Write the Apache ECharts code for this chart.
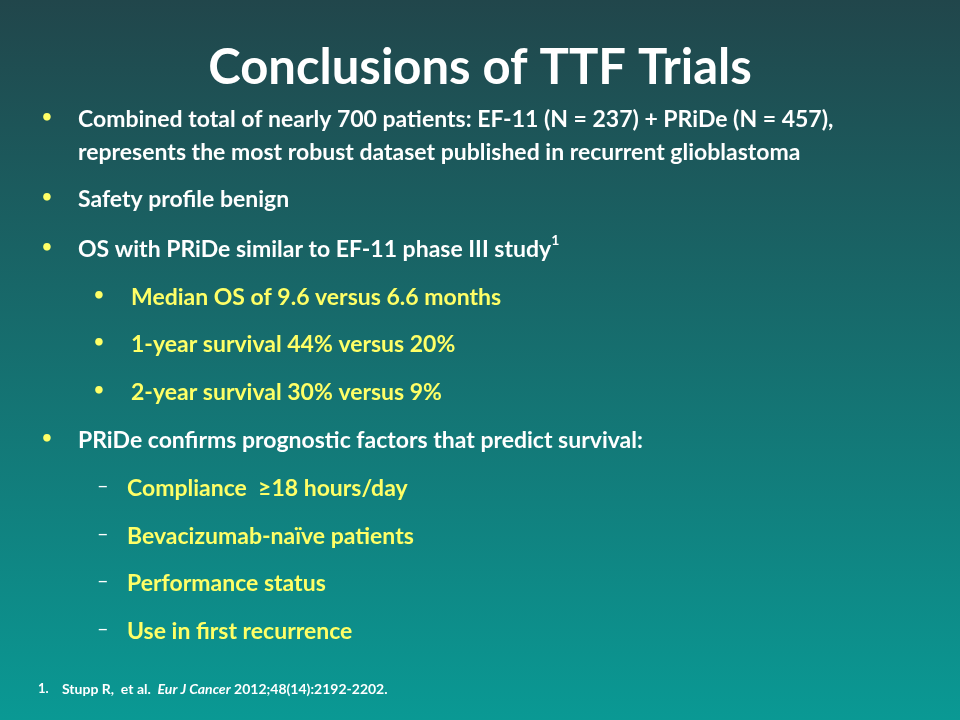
<!DOCTYPE html>
<html><head><meta charset="utf-8">
<script src="https://cdn.jsdelivr.net/npm/echarts@6/dist/echarts.min.js"></script>
<style>html,body{margin:0;padding:0}#c{width:960px;height:720px}</style>
</head><body><div id="c"></div>
<script>
const titleText = "Conclusions of TTF Trials";
const bulletTexts = [
  "Combined total of nearly 700 patients: EF-11 (N = 237) + PRiDe (N = 457),\nrepresents the most robust dataset published in recurrent glioblastoma",
  "Safety profile benign",
  "OS with PRiDe similar to EF-11 phase III study{sup|1}",
  "Median OS of 9.6 versus 6.6 months",
  "1-year survival 44% versus 20%",
  "2-year survival 30% versus 9%",
  "PRiDe confirms prognostic factors that predict survival:",
  "Compliance  \u226518 hours/day",
  "Bevacizumab-na\u00efve patients",
  "Performance status",
  "Use in first recurrence"
];
const bulletLevels = [0,0,0,1,1,1,0,2,2,2,2];
const bulletRows = [117,197,247,295,342,390,438,486,534,581,629];
const footnote = ["1.", "Stupp R,  et al.  {i|Eur J Cancer} 2012;48(14):2192-2202."];

const FONT = "Lato, 'Open Sans', sans-serif";
const YEL = "#ffff66";
const graphic = [{
  type:'rect', shape:{x:0,y:0,width:960,height:720}, z:0,
  style:{fill:new echarts.graphic.LinearGradient(0,0,0,1,[{offset:0,color:'#21464b'},{offset:1,color:'#0a9994'}])}
},{
  type:'text', x:480, y:68, style:{text:titleText, fill:'#fff', font:"bold 49px "+FONT, align:'center', verticalAlign:'middle'}
}];
bulletTexts.forEach((t,i)=>{
  const lv = bulletLevels[i], y = bulletRows[i];
  const col = lv===0 ? '#fff' : YEL;
  const mark = lv===2 ? '\u2013' : '\u2022';
  const mx = lv===0 ? 42 : (lv===1 ? 94 : 97);
  const tx = lv===0 ? 78 : (lv===1 ? 131 : 127);
  graphic.push({type:'text', x:mx, y:y, style:{text:mark, fill:lv===2?'#fff':YEL, font:(lv===2?"20px ":"bold 17px ")+FONT, verticalAlign:'middle'}});
  graphic.push({type:'text', x:tx, y:y-14, style:{text:t, fill:col, font:"bold 23px "+FONT, lineHeight:33, verticalAlign:'top',
    rich:{sup:{fill:col, font:"bold 14px "+FONT, verticalAlign:'top', padding:[0,0,6,0]}}}});
});
graphic.push({type:'text', x:38, y:689, style:{text:footnote[0], fill:'#fff', font:"bold 13px "+FONT, verticalAlign:'middle'}});
graphic.push({type:'text', x:62, y:689, style:{text:footnote[1], fill:'#fff', font:"bold 14px "+FONT, verticalAlign:'middle',
  rich:{i:{fill:'#fff', font:"italic bold 14px "+FONT}}}});
const chart = echarts.init(document.getElementById('c'));
chart.setOption({animation:false, graphic});
</script></body></html>
